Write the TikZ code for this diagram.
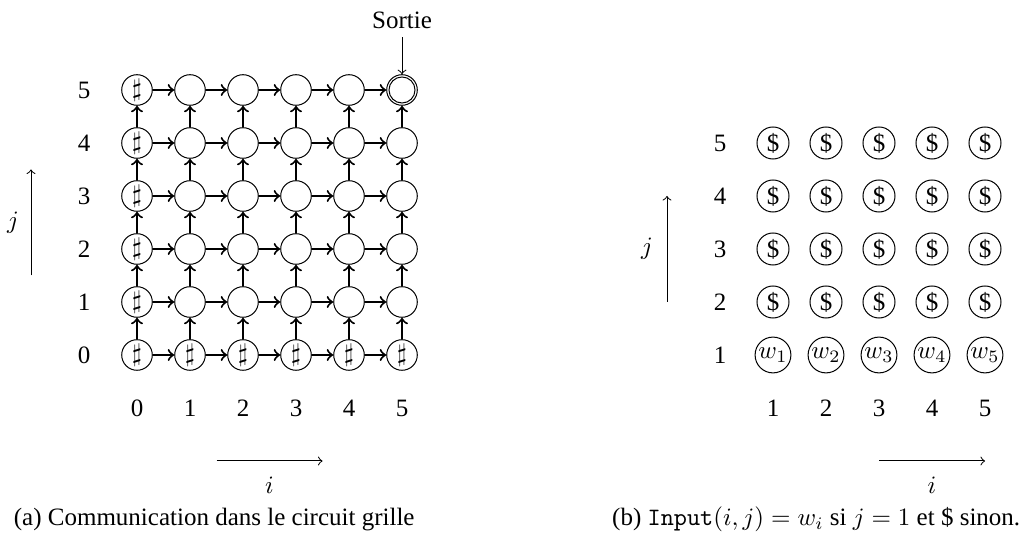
\documentclass[tikz,border=0pt]{standalone}
\usepackage{amsmath,amssymb}
\usepackage{fontspec}
\setmainfont{Liberation Serif}
\usetikzlibrary{arrows.meta, positioning}

\begin{document}
\begin{tikzpicture}[x=0.745cm, y=0.745cm, >=to,
    cell/.style={draw, circle, inner sep=0pt, minimum size=0.43cm},
    coin/.style={draw, circle, inner sep=0.5pt, minimum size=0.45cm},
    link/.style={->, thick}]
    \useasboundingbox (-2.585,-3.623) rectangle (16.849,6.698);

    % grille de gauche
    \foreach \r in {0,...,5}
        \node[cell] (g0\r) at (0,\r) {$\sharp$};
    \foreach \c in {1,...,5}
        \node[cell] (g\c0) at (\c,0) {$\sharp$};
    \foreach \c in {1,...,5}
        \foreach \r in {1,...,5}
            \node[cell] (g\c\r) at (\c,\r) {};
    \draw (g55.center) circle[radius=0.183cm];

    \foreach \r in {0,...,5}
        \foreach \c [remember=\c as \p (initially 0)] in {1,...,5}
            \draw[link] (g\p\r) -- (g\c\r);
    \foreach \c in {0,...,5}
        \foreach \r [remember=\r as \q (initially 0)] in {1,...,5}
            \draw[link] (g\c\q) -- (g\c\r);

    \foreach \r in {0,...,5}
        \node (gj\r) at (-1,\r) {\r};
    \foreach \c in {0,...,5}
        \node (gi\c) at (\c,-1) {\c};

    \node (sortie) at (5,6.32) {Sortie};
    \draw[->] (sortie) -- (g55);

    \coordinate (gia) at (1.5,-2);
    \coordinate (gib) at (3.5,-2);
    \draw[->] (gia) -- (gib);
    \node (gil) at (2.5,-2.45) {$i$};
    \coordinate (gja) at (-2,1.5);
    \coordinate (gjb) at (-2,3.5);
    \draw[->] (gja) -- (gjb);
    \node (gjl) at (-2.34,2.5) {$j$};

    % grille de droite
    \foreach \c in {1,...,5} {
        \node[coin] (d\c1) at (11+\c,0) {$w_{\c}$};
        \foreach \r in {2,...,5}
            \node[coin] (d\c\r) at (11+\c,\r-1) {\$};
    }
    \foreach \r in {1,...,5}
        \node (dj\r) at (11,\r-1) {\r};
    \foreach \c in {1,...,5}
        \node (di\c) at (11+\c,-1) {\c};

    \coordinate (dia) at (14,-2);
    \coordinate (dib) at (16,-2);
    \draw[->] (dia) -- (dib);
    \node (dil) at (15,-2.45) {$i$};
    \coordinate (dja) at (10,1);
    \coordinate (djb) at (10,3);
    \draw[->] (dja) -- (djb);
    \node (djl) at (9.62,2) {$j$};

    \node[anchor=west] (capa) at (-2.49,-3.1) {(a) Communication dans le circuit grille};
    \node[anchor=west] (capb) at (8.8,-3.1) {(b) \texttt{Input}$(i,j) = w_i$ si $j = 1$ et \$ sinon.};
\end{tikzpicture}
\end{document}
